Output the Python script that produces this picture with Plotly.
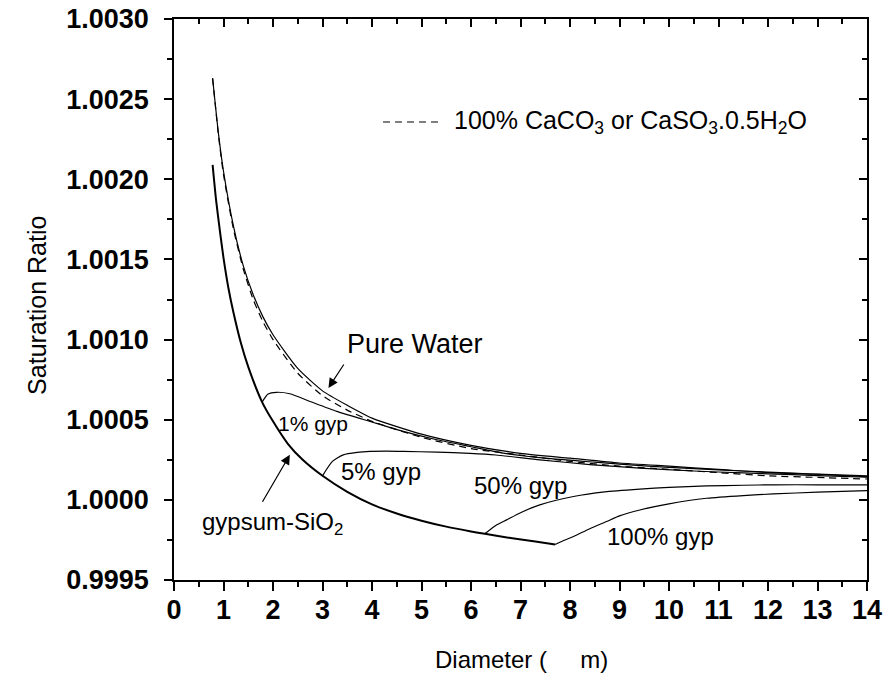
import plotly.graph_objects as go

# ---- data ----
pure_x = [0.78, 0.9, 1.0, 1.2, 1.4, 1.6, 1.8, 2.0, 2.5, 3.0, 3.5, 4.0, 5.0, 6.0, 7.0, 8.0, 9.0, 10.0, 11.0, 12.0, 13.0, 14.0]
pure_y = [1.00263, 1.00228, 1.00205, 1.00171, 1.00146, 1.00128, 1.00114, 1.00103, 1.00082, 1.00068, 1.00059, 1.00051,
          1.00041, 1.00034, 1.00029, 1.00026, 1.00023, 1.00021, 1.00019, 1.00017, 1.00016, 1.00015]

caco3_x = [0.78, 0.9, 1.0, 1.2, 1.4, 1.6, 1.8, 2.0, 2.5, 3.0, 3.5, 4.0, 5.0, 6.0, 7.0, 8.0, 9.0, 10.0, 11.0, 12.0, 13.0, 14.0]
caco3_y = [1.00263, 1.00227, 1.00203, 1.00169, 1.00144, 1.00125, 1.00111, 1.00100, 1.00079, 1.00065, 1.00056, 1.00049,
           1.00039, 1.00032, 1.00028, 1.00024, 1.00021, 1.00019, 1.00017, 1.00015, 1.00014, 1.00013]

gyps_x = [0.78, 0.85, 0.93, 1.0, 1.1, 1.2, 1.35, 1.5, 1.78, 2.0, 2.3, 2.6, 3.0, 3.5, 4.0, 4.5, 5.0, 5.5, 6.0, 6.28, 6.8, 7.3, 7.7]
gyps_y = [1.00209, 1.00187, 1.00167, 1.00151, 1.00132, 1.00117, 1.00098, 1.00083, 1.00061, 1.00049, 1.00035, 1.00025,
          1.00015, 1.00005, 0.999972, 0.999915, 0.999870, 0.999833, 0.999803, 0.999788, 0.999762, 0.999740, 0.999722]

g1_x = [1.78, 1.9, 2.07, 2.34, 2.75, 3.29, 3.96, 4.63, 5.31, 5.98, 6.65, 7.5, 8.5, 9.5, 10.5, 11.5, 12.5, 13.5, 14.0]
g1_y = [1.00061, 1.00066, 1.000671, 1.000662, 1.000614, 1.000552, 1.000489, 1.000427, 1.000375, 1.000333, 1.000292,
        1.000260, 1.000235, 1.000212, 1.000195, 1.000180, 1.000167, 1.000152, 1.000145]

g5_x = [3.0, 3.2, 3.42, 3.7, 3.96, 4.3, 4.63, 5.31, 5.98, 6.5, 7.39, 8.4, 9.41, 10.5, 11.5, 12.5, 13.5, 14.0]
g5_y = [1.00015, 1.00024, 1.000281, 1.000296, 1.000302, 1.000304, 1.000302, 1.000298, 1.000290, 1.000280, 1.000250,
        1.000220, 1.000198, 1.000180, 1.000168, 1.000157, 1.000146, 1.000141]

g50_x = [6.28, 6.5, 6.72, 7.0, 7.39, 8.07, 8.7, 9.41, 10.0, 10.76, 11.5, 12.11, 13.0, 14.0]
g50_y = [0.999788, 0.999840, 0.999875, 0.999920, 0.999969, 1.000021, 1.000050, 1.000067, 1.000078, 1.000087, 1.000091,
         1.000094, 1.000094, 1.000093]

g100_x = [7.7, 7.9, 8.07, 8.4, 8.74, 9.0, 9.41, 10.0, 10.76, 11.5, 12.11, 13.0, 14.0]
g100_y = [0.999722, 0.999750, 0.999771, 0.999820, 0.999865, 0.999900, 0.999937, 0.999975, 1.000010, 1.000027, 1.000037,
          1.000048, 1.000058]

x_range = [0, 14]
y_range = [0.9995, 1.0030]

FONT = "Liberation Sans, Arial, sans-serif"

fig = go.Figure()

def add_line(x, y, width=1.2, dash="solid", name=""):
    fig.add_trace(go.Scatter(x=x, y=y, mode="lines", name=name, showlegend=False,
                             line=dict(color="black", width=width, dash=dash, shape="spline", smoothing=0.6),
                             hoverinfo="skip"))

add_line(pure_x, pure_y, 1.2, name="Pure Water")
add_line(caco3_x, caco3_y, 1.2, dash="7px,5px", name="100% CaCO3 or CaSO3.0.5H2O")
add_line(gyps_x, gyps_y, 2.0, name="gypsum-SiO2")
add_line(g1_x, g1_y, 1.2, name="1% gyp")
add_line(g5_x, g5_y, 1.2, name="5% gyp")
add_line(g50_x, g50_y, 1.2, name="50% gyp")
add_line(g100_x, g100_y, 1.2, name="100% gyp")

# dummy trace for the mirrored (top/right) axes
fig.add_trace(go.Scatter(x=[None], y=[None], xaxis="x2", yaxis="y2", showlegend=False, hoverinfo="skip"))

tickfont = dict(family=FONT, size=27, color="black", weight="bold")

fig.update_layout(
    template="none",
    width=888, height=682,
    margin=dict(l=174, r=21, t=19, b=102, autoexpand=False),
    paper_bgcolor="white", plot_bgcolor="white",
    showlegend=False,
    xaxis=dict(range=x_range, dtick=1, tick0=0, showgrid=False, zeroline=False, automargin=False,
               showline=True, linecolor="black", linewidth=1.5,
               ticks="outside", ticklen=9, tickwidth=1.5, tickcolor="black",
               minor=dict(ticks="outside", ticklen=5, tickwidth=1.5, dtick=0.5, tickcolor="black"),
               tickfont=tickfont, ticklabelstandoff=-4),
    yaxis=dict(range=y_range, dtick=0.0005, tick0=1.0, tickformat=".4f", showgrid=False, zeroline=False,
               automargin=False,
               showline=True, linecolor="black", linewidth=1.5,
               ticks="outside", ticklen=8, tickwidth=1.5, tickcolor="black",
               minor=dict(ticks="outside", ticklen=5, tickwidth=1.5, dtick=0.00025, tickcolor="black"),
               tickfont=tickfont, ticklabelstandoff=10),
    xaxis2=dict(range=x_range, overlaying="x", side="top", anchor="y2", dtick=1, tick0=0, automargin=False,
                showgrid=False, zeroline=False, showline=True, linecolor="black", linewidth=1.5,
                ticks="inside", ticklen=8, tickwidth=1.5, tickcolor="black", showticklabels=False,
                minor=dict(ticks="inside", ticklen=5, tickwidth=1.5, dtick=0.5, tickcolor="black")),
    yaxis2=dict(range=y_range, overlaying="y", side="right", anchor="x2", dtick=0.0005, tick0=1.0,
                automargin=False,
                showgrid=False, zeroline=False, showline=True, linecolor="black", linewidth=1.5,
                ticks="inside", ticklen=8, tickwidth=1.5, tickcolor="black", showticklabels=False,
                minor=dict(ticks="inside", ticklen=5, tickwidth=1.5, dtick=0.00025, tickcolor="black")),
)

txt = dict(family=FONT, size=24, color="black")

annotations = [
    # axis titles
    dict(text="Saturation Ratio", xref="paper", yref="paper", x=-0.198, y=0.490, textangle=-90,
         showarrow=False, font=dict(family=FONT, size=25, color="black"), xanchor="center", yanchor="middle"),
    dict(text="Diameter (\u00a0\u00a0\u00a0\u00a0\u00a0m)", xref="paper", yref="paper", x=0.502, y=-0.1426,
         showarrow=False, font=dict(family=FONT, size=24, color="black"), xanchor="center", yanchor="middle"),
    # legend text
    dict(text="100% CaCO<sub>3</sub> or CaSO<sub>3</sub>.0.5H<sub>2</sub>O", xref="paper", yref="paper",
         x=0.401, y=0.8164, xanchor="left", yanchor="middle", showarrow=False,
         font=dict(family=FONT, size=25, color="black")),
    # curve labels
    dict(text="Pure Water", x=4.87, y=1.000975, showarrow=False, font=dict(family=FONT, size=27, color="black")),
    dict(text="1% gyp", x=2.81, y=1.000475, showarrow=False, font=dict(family=FONT, size=21, color="black")),
    dict(text="5% gyp", x=4.18, y=1.000175, showarrow=False, font=txt),
    dict(text="50% gyp", x=6.99, y=1.000088, showarrow=False, font=txt),
    dict(text="100% gyp", x=9.82, y=0.999769, showarrow=False, font=txt),
    dict(text="gypsum-SiO<sub>2</sub>", x=1.99, y=0.99985, showarrow=False, font=txt),
    # arrows
    dict(text="", x=3.12, y=1.000698, ax=3.45, ay=1.000854, axref="x", ayref="y", xref="x", yref="y",
         showarrow=True, arrowhead=2, arrowsize=1.6, arrowwidth=1.2, arrowcolor="black"),
    dict(text="", x=2.34, y=1.000281, ax=1.77, ay=0.999979, axref="x", ayref="y", xref="x", yref="y",
         showarrow=True, arrowhead=2, arrowsize=1.6, arrowwidth=1.2, arrowcolor="black"),
]
fig.update_layout(annotations=annotations)

# legend sample line
fig.add_shape(type="line", xref="paper", yref="paper", x0=0.3016, x1=0.388, y0=0.8164, y1=0.8164,
              line=dict(color="black", width=1.2, dash="7px,5px"))

fig.write_html("out.html", config={"displayModeBar": False},
               post_script="document.body.style.margin='0px';document.body.style.overflow='hidden';")
